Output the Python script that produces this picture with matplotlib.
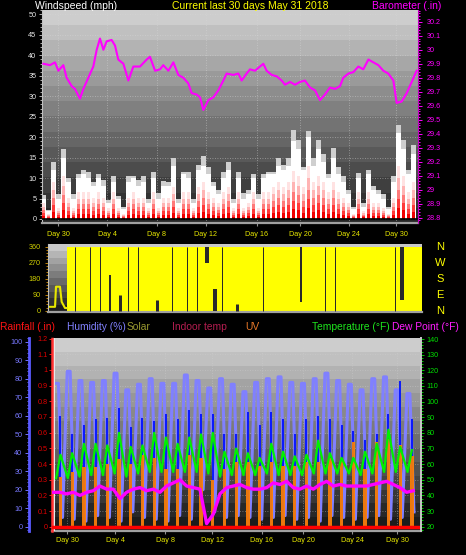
import numpy as np
import matplotlib
matplotlib.use("Agg")
import matplotlib.pyplot as plt
from matplotlib.ticker import MultipleLocator, FixedLocator, FuncFormatter
import matplotlib.transforms as mtransforms

plt.rcParams['font.family'] = ['Liberation Sans', 'DejaVu Sans']

# ---------------- data ----------------
title_left = "Windspeed (mph)"
title_mid = "Current last 30 days May 31 2018"
title_right = "Barometer (.in)"
day_labels = ["Day 30", "Day 4", "Day 8", "Day 12", "Day 16", "Day 20", "Day 24", "Day 30"]

baro_day = [0.11, 0.66, 1.07, 1.35, 1.76, 2.03, 2.45, 2.72, 3.13, 3.41,
            3.82, 4.23, 4.51, 4.78, 5.06, 5.33, 5.74, 6.02, 6.29, 6.71,
            7.12, 7.53, 8.08, 8.63, 8.90, 9.32, 9.73, 10.00, 10.42, 10.83,
            11.24, 11.65, 12.06, 12.34, 12.75, 13.03, 13.30, 13.71, 14.13, 14.54,
            14.95, 15.22, 15.77, 16.19, 16.46, 16.87, 17.15, 17.56, 17.97, 18.25,
            18.52, 18.94, 19.35, 19.76, 20.03, 20.45, 20.86, 21.27, 21.68, 22.10,
            22.51, 22.92, 23.33, 23.74, 24.16, 24.57, 24.84, 25.26, 25.67, 26.08,
            26.49, 26.91, 27.32, 27.73, 28.14, 28.55, 28.97, 29.24, 29.65, 30.07,
            30.48, 30.89]
baro_inhg = [29.90, 29.89, 29.91, 29.85, 29.89, 29.80, 29.74, 29.72, 29.65, 29.72,
             29.80, 29.88, 30.00, 30.08, 30.00, 30.06, 30.07, 30.03, 29.93, 29.90,
             29.78, 29.88, 29.88, 29.93, 29.95, 29.85, 29.86, 29.89, 29.85, 29.91,
             29.82, 29.80, 29.76, 29.69, 29.68, 29.66, 29.57, 29.64, 29.66, 29.71,
             29.78, 29.83, 29.82, 29.83, 29.78, 29.83, 29.86, 29.85, 29.88, 29.90,
             29.85, 29.82, 29.81, 29.78, 29.75, 29.77, 29.75, 29.77, 29.78, 29.73,
             29.71, 29.64, 29.68, 29.73, 29.72, 29.74, 29.80, 29.83, 29.84, 29.88,
             29.86, 29.93, 29.91, 29.89, 29.85, 29.83, 29.78, 29.62, 29.63, 29.69,
             29.77, 29.85]

wind_gust = [5.9, 2.3, 14, 6, 17, 10, 6, 11, 12, 11.6,
             9, 11, 9.6, 4.7, 10.4, 5.5, 3, 10.4, 10.4, 9.6,
             10.4, 5, 11.6, 6.3, 9.2, 9, 15, 5, 11.6, 11.6,
             5, 13.2, 15.3, 12.8, 9, 7, 11.6, 14, 5, 11.6,
             6.3, 7, 11, 6, 11, 11.6, 11.6, 15, 13.2, 14.9,
             21.8, 19.3, 12.8, 21.5, 15, 19.3, 16, 11, 17.3, 12.8,
             10.4, 7, 3, 11.2, 3.9, 12, 8, 7, 6, 3,
             10.4, 23, 19.3, 12, 18]
wind_speed = [5, 2, 12, 5, 15, 9, 5, 10, 11, 10,
              8, 10, 8, 4, 9, 5, 2.5, 9, 10, 8,
              9, 4, 10, 5, 8, 8, 13, 4, 11, 10,
              4, 12, 13, 11, 8, 6, 10, 12, 4, 10,
              5, 6, 10, 5, 10, 11, 11, 13, 12, 13,
              19, 17, 12, 20, 13, 17, 14, 10, 15, 11,
              9, 6, 2.5, 10, 3, 11, 7, 6, 5, 2.5,
              9, 21, 17, 11, 16]
wind_avg = [3, 1, 7, 2, 8, 4, 2, 5, 5, 5,
            4, 5, 4, 2, 5, 2, 1, 4, 5, 4,
            4, 2, 5, 2, 4, 4, 6, 2, 5, 5,
            2, 6, 7, 5, 4, 3, 5, 6, 2, 5,
            2, 3, 5, 2, 5, 5, 6, 7, 6, 7,
            9, 8, 6, 10, 7, 8, 7, 5, 7, 5,
            4, 3, 1, 5, 1.5, 5, 3, 3, 2, 1,
            4, 10, 8, 5, 7]

dir_early_day = [0.14, 0.56, 0.64, 0.97, 1.11, 1.39, 1.53]
dir_early_deg = [22, 22, 135, 135, 50, 15, 15]
dir_cover_day = [1.53, 31.0]
gap_day = [2.22, 3.46, 4.29, 5.12, 5.96, 6.65, 7.48, 9.0, 10.25, 11.5, 12.33,
           13.16, 13.85, 14.4, 15.65, 17.86, 20.96, 22.98, 23.81, 28.8, 29.4]
gap_lo = [0, 0, 0, 0, 0, 0, 0, 0, 0, 0, 0, 270, 0, 0, 0, 0, 50, 0, 0, 0, 60]
gap_hi = [360, 360, 360, 200, 90, 360, 360, 60, 360, 360, 360, 360, 120, 360,
          40, 360, 360, 360, 360, 360, 360]
compass_deg = [360, 270, 180, 90, 0]
compass_letters = ["N", "W", "S", "E", "N"]

hum_high = [77.5, 84, 79, 78, 79, 83, 74, 77, 80, 77.5, 77.5, 82, 79, 75, 80,
            77, 73, 78, 80, 81, 78, 77.5, 80, 83, 79, 77, 74, 80, 81, 74, 72]
hum_low = [5, 4, 3, 6, 5, 3, 8, 5, 4, 3, 6, 4, 20, 8, 5, 6, 5, 4, 5, 6, 4, 5,
           3, 6, 5, 4, 5, 6, 4, 5, 8]
temp_low = [51, 51, 52, 53, 53, 54, 52, 54, 55, 55, 55, 55, 55, 54, 52, 53, 53,
            53, 54, 53, 53, 53, 54, 54, 54, 54, 53, 54, 55, 55, 55]
temp_high = [66, 67, 73, 73, 72, 80, 71, 72, 80, 77, 73, 77, 79, 80, 68, 70, 67,
             64, 73, 68, 65, 66, 75, 67, 64, 64, 68, 73, 82, 71, 69]
solar_peak = [60, 50, 55, 58, 59, 64, 54, 59, 57, 61, 58, 63, 61, 61, 50, 50, 62,
              55, 62, 58, 50, 58, 60, 58, 55, 52, 47, 50, 61, 79, 58]
uv_peak = [0.32, 0.35, 0.38, 0.38, 0.40, 0.43, 0.40, 0.46, 0.44, 0.37, 0.37, 0.46,
           0.44, 0.30, 0.37, 0.41, 0.41, 0.39, 0.41, 0.39, 0.39, 0.41, 0.41, 0.44,
           0.44, 0.54, 0.37, 0.54, 0.56, 0.52, 0.45]
dew_point = [42, 42, 41, 42, 40, 42, 43, 46, 44, 44,
             38, 42, 44, 45, 43, 44, 42, 46, 48, 50,
             46, 45, 44, 22, 28, 41, 45, 46, 47, 45,
             44, 44, 45, 48, 47, 49, 45, 44, 46, 44,
             47, 49, 46, 47, 46, 46, 46, 46, 47, 48,
             49, 47, 45, 42, 43]
rain_in = [0.0] * 32

# ---------------- helpers ----------------
W, H = 466.0, 555.0


def box(l, t, r, b):
    return [l / W, 1 - b / H, (r - l) / W, (b - t) / H]


def gradient(ax, top, bottom, n=14):
    col = np.linspace(top, bottom, n)[:, None]
    ax.imshow(col, cmap='gray', vmin=0, vmax=255, aspect='auto',
              extent=(0, 1, 0, 1), transform=ax.transAxes,
              interpolation='nearest', zorder=0)


trim = FuncFormatter(lambda v, p: (f"{v:.1f}".rstrip('0').rstrip('.')))
intfmt = FuncFormatter(lambda v, p: f"{v:.0f}")
dotted = (0, (1, 2))
TS = 5.2

fig = plt.figure(figsize=(4.66, 5.55), dpi=100)
fig.patch.set_facecolor('black')

# ---------------- panel 1 : wind + barometer ----------------
ax1 = fig.add_axes(box(42, 10, 418, 223))
gradient(ax1, 205, 38)
ax1.set_xlim(0, 31)
ax1.set_ylim(-0.98, 51.1)
wt = np.linspace(0.11, 30.61, len(wind_gust))
bw = wt[1] - wt[0]
ax1.bar(wt, wind_gust, width=bw * 1.06, color='#cfcfcf', lw=0, zorder=2)
ax1.bar(wt, wind_speed, width=bw * 1.06, color='white', lw=0, zorder=3)
for f, c in zip([1.3, 1.0, 0.72, 0.48, 0.26],
                ['#ffe2e2', '#ffb4b4', '#ff7a7a', '#ff3a3a', '#f00000']):
    ax1.bar(wt, np.array(wind_avg) * f, width=bw * 0.55, color=c, lw=0, zorder=4)
ax1.axhline(0, color='black', lw=1.2, zorder=5)
ax1.set_axisbelow(True)
ax1.grid(True, color='#d8d8d8', linestyle=dotted, linewidth=0.6, alpha=0.6)
ax1.yaxis.set_major_locator(MultipleLocator(5))
ax1.yaxis.set_minor_locator(MultipleLocator(1))
ax1.yaxis.set_major_formatter(intfmt)
ax1.tick_params(axis='y', which='both', colors='#b0b0b0', labelcolor='#e8e8e8',
                labelsize=TS, length=2.5, width=0.7, pad=1.5)
ax1.tick_params(axis='y', which='minor', length=1.8)
p1_ticks = [1.32, 5.36, 9.48, 13.52, 17.73, 21.27, 25.31, 29.19]
ax1.xaxis.set_major_locator(FixedLocator(p1_ticks))
ax1.set_xticklabels(day_labels)
ax1.tick_params(axis='x', colors='#909090', labelcolor='#e6e600', labelsize=TS,
                length=2, pad=3.6)
for s in ['top', 'right']:
    ax1.spines[s].set_visible(False)
ax1.spines['left'].set_color('#c0c0c0')
ax1.spines['bottom'].set_color('#a0a0a0')
ax1.spines['bottom'].set_linewidth(1.6)

ax1b = ax1.twinx()
ax1b.set_ylim(28.762, 30.284)
ax1b.plot(baro_day, baro_inhg, color='#ff00ff', lw=1.5, zorder=5)
ax1b.yaxis.set_major_locator(MultipleLocator(0.1))
ax1b.yaxis.set_minor_locator(MultipleLocator(0.02))
ax1b.yaxis.set_major_formatter(trim)
ax1b.tick_params(axis='y', which='both', colors='#ff00ff', labelcolor='#ff00ff',
                 labelsize=TS, length=3, width=0.7, pad=3.3)
ax1b.tick_params(axis='y', which='minor', length=1.5)
for s in ['top', 'left', 'bottom']:
    ax1b.spines[s].set_visible(False)
ax1b.spines['right'].set_color('#c000c0')

fig.text(35 / W, 1 - 6 / H, title_left, color='white', fontsize=7.5, va='center', ha='left')
fig.text(172 / W, 1 - 6 / H, title_mid, color='#ffff00', fontsize=7.5, va='center', ha='left')
fig.text(372 / W, 1 - 6 / H, title_right, color='#ff00ff', fontsize=7.5, va='center', ha='left')

# ---------------- panel 2 : wind direction ----------------
ax2 = fig.add_axes(box(48.3, 244, 421.7, 311.7))
gradient(ax2, 200, 30, n=10)
ax2.set_xlim(0, 31)
ax2.set_ylim(-5.6, 375)
ax2.fill_between(dir_cover_day, 0, 360, color='#ffff00', lw=0, zorder=2)
ax2.plot(dir_early_day, dir_early_deg, color='#e8e800', lw=1.5, zorder=3)
gap_w_px = [1, 1, 1, 2, 3, 1, 1, 3, 1, 1, 1, 4, 4, 1, 3, 1, 2, 1, 1, 1, 4]
ax2.vlines(gap_day, gap_lo, gap_hi, colors='#2a2a2a',
           linewidths=np.array(gap_w_px) * 0.72, zorder=3)
ax2.yaxis.set_major_locator(FixedLocator([0, 90, 180, 270, 360]))
ax2.yaxis.set_minor_locator(MultipleLocator(18))
ax2.yaxis.set_major_formatter(intfmt)
ax2.tick_params(axis='y', which='both', colors='#c08000', labelcolor='#d0d000',
                labelsize=TS, length=2.5, width=0.7, pad=3.0)
ax2.tick_params(axis='y', which='minor', length=1.5)
ax2.set_xticks([])
for s in ['top', 'right']:
    ax2.spines[s].set_visible(False)
ax2.spines['left'].set_color('#c0c0c0')
ax2.spines['bottom'].set_color('#a0a0a0')
ax2.spines['bottom'].set_linewidth(1.6)
for d, letter in zip(compass_deg, compass_letters):
    ax2.text(1.049, d, letter, transform=ax2.get_yaxis_transform(), color='#ffff00',
             fontsize=8, va='center', ha='center')

# ---------------- header row for panel 3 ----------------
headers = [("Rainfall (.in)", 0, '#ff1414'), ("Humidity (%)", 67, '#8282ff'),
           ("Solar", 127, '#9a9a30'), ("Indoor temp", 172, '#b41e50'),
           ("UV", 245, '#e87828'), ("Temperature (°F)", 312, '#1ee61e'),
           ("Dew Point (°F)", 392, '#ff1eff')]
for txt, x, c in headers:
    fig.text(x / W, 1 - 327 / H, txt, color=c, fontsize=7.4, va='center', ha='left')

# ---------------- panel 3 ----------------
ax3 = fig.add_axes(box(52, 338, 421, 531))
gradient(ax3, 205, 28)
ax3.set_xlim(0, 31.5)
ax3.set_ylim(-2.32, 102.0)
ax3r = ax3.twinx()
ax3r.set_ylim(-0.0275, 1.204)
ax3t = ax3.twinx()
ax3t.set_ylim(17.25, 140.65)
ax3.set_zorder(1)
ax3r.set_zorder(2)
ax3t.set_zorder(3)

days = np.arange(len(hum_high))
trans = mtransforms.blended_transform_factory(ax3.transAxes, ax3r.transData)
for v in np.arange(0.1, 1.21, 0.1):
    ax3.plot([0, 1], [v, v], transform=trans, color='#d0d0d0', lw=0.6,
             linestyle=dotted, alpha=0.55, zorder=1)
p3_ticks = [1.28, 5.38, 9.65, 13.66, 17.93, 21.43, 25.61, 29.45]
ax3.xaxis.set_major_locator(FixedLocator(p3_ticks))
ax3.set_xticklabels(day_labels)
ax3.set_axisbelow(True)
ax3.grid(True, axis='x', color='#d0d0d0', linestyle=dotted, linewidth=0.6, alpha=0.55)
ax3.tick_params(axis='x', colors='#909090', labelcolor='#e6e600', labelsize=TS,
                length=2, pad=2.3)

# humidity: short night plateau (peak reading held) then sharp midday dip
ht = np.ravel(np.column_stack([days + 0.3, days + 0.55, days + 0.9]))
hv = np.ravel(np.column_stack([hum_high, hum_high, hum_low]))
ax3.plot(ht, hv, color='#8080ff', lw=2.2, zorder=3, solid_joinstyle='round')
ax3.vlines(days + 0.72, 0, solar_peak, colors='#0010ff', lw=1.3, zorder=4)

ax3r.bar(days + 0.72, uv_peak, width=0.28, color='#ff8000', lw=0, alpha=0.92, zorder=2)
ax3r.plot(np.linspace(0, 31.5, len(rain_in)), rain_in, color='#ff0000', lw=2.5, zorder=5)

tt = np.ravel(np.column_stack([days + 0.35, days + 0.72]))
tv = np.ravel(np.column_stack([temp_low, temp_high]))
ax3t.plot(tt, tv, color='#00f000', lw=1.6, zorder=3)
ax3t.plot(np.linspace(0.11, 30.84, len(dew_point)), dew_point, color='#ff00ff',
          lw=2.4, zorder=4)

# axes styling panel 3
ax3.spines['left'].set_position(('outward', 16.6))
ax3.spines['left'].set_color('#5a5aff')
ax3.spines['left'].set_linewidth(2)
for s in ['top', 'right']:
    ax3.spines[s].set_visible(False)
ax3.spines['bottom'].set_color('#a0a0a0')
ax3.spines['bottom'].set_linewidth(1.6)
ax3.yaxis.set_major_locator(MultipleLocator(10))
ax3.yaxis.set_minor_locator(MultipleLocator(2))
ax3.yaxis.set_major_formatter(intfmt)
ax3.tick_params(axis='y', which='both', colors='#7070ff', labelcolor='#7878ff',
                labelsize=TS, length=3, width=0.7, pad=1.8)
ax3.tick_params(axis='y', which='minor', length=1.5)
ax3.axvline(0.12, color='#e8e8e8', lw=2.2, zorder=6)

ax3r.yaxis.tick_left()
for s in ['top', 'right', 'bottom']:
    ax3r.spines[s].set_visible(False)
ax3r.spines['left'].set_color('#ff3030')
ax3r.spines['left'].set_linewidth(1.8)
ax3r.spines['left'].set_linestyle((0, (1, 1)))
ax3r.yaxis.set_major_locator(MultipleLocator(0.1))
ax3r.yaxis.set_major_formatter(trim)
ax3r.tick_params(axis='y', which='both', colors='#ff2020', labelcolor='#e00000',
                 labelsize=TS, length=2, width=0.7, pad=1.0)

for s in ['top', 'left', 'bottom']:
    ax3t.spines[s].set_visible(False)
ax3t.spines['right'].set_color('#c8c8c8')
ax3t.spines['right'].set_linewidth(1.4)
ax3t.yaxis.set_major_locator(MultipleLocator(10))
ax3t.yaxis.set_minor_locator(MultipleLocator(2))
ax3t.yaxis.set_major_formatter(intfmt)
ax3t.tick_params(axis='y', which='both', colors='#00d000', labelcolor='#00e000',
                 labelsize=TS, length=2.5, width=0.7, pad=1.5)
ax3t.tick_params(axis='y', which='minor', length=1.5)

fig.savefig("out.png", dpi=100, facecolor='black')
